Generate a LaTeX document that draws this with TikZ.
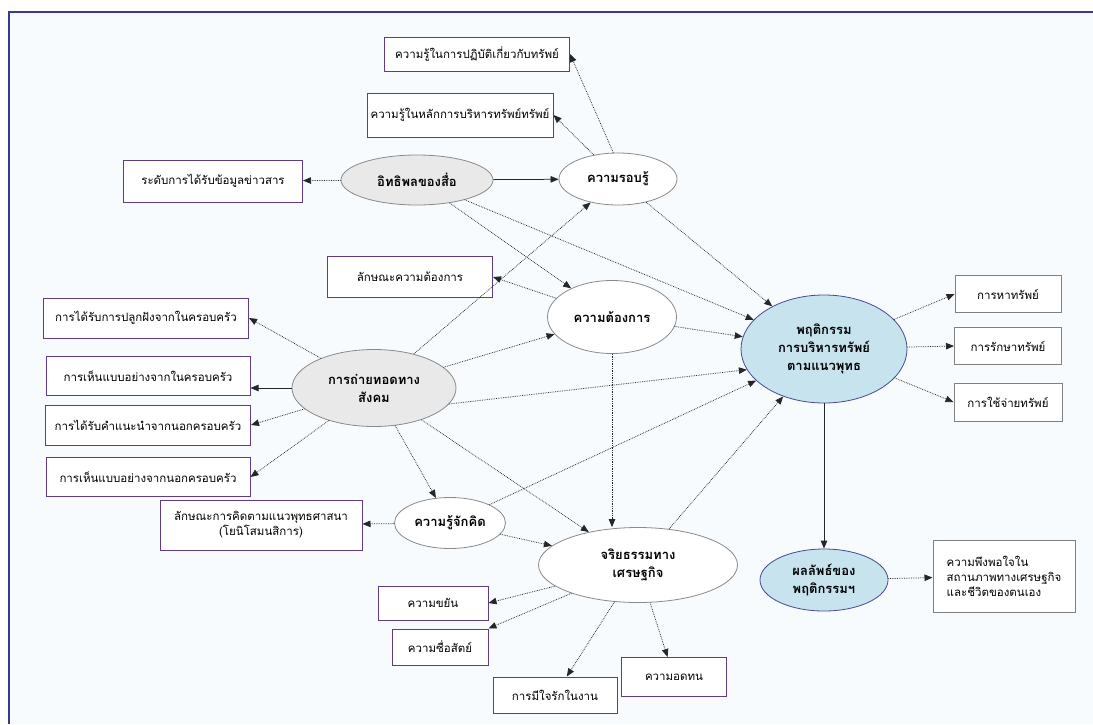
\documentclass[tikz,border=0pt]{standalone}
\usepackage{fontspec}
\newfontfamily\thaifont[Script=Thai]{Loma}
\usetikzlibrary{shapes.geometric,arrows.meta}
\definecolor{frameblue}{HTML}{38389A}
\definecolor{paper}{HTML}{F7FBFE}
\definecolor{boxpurple}{HTML}{5E3C8A}
\definecolor{ovalgray}{HTML}{E9E9E9}
\definecolor{ovalblue}{HTML}{C6E3EE}
\definecolor{ovalline}{HTML}{8A8A8A}
\definecolor{blueline}{HTML}{4A4A90}

\begin{document}
\begin{tikzpicture}
[every node/.style={inner sep=0pt, align=center, font=\thaifont\fontsize{11.5}{15}\selectfont},
 box/.style={rectangle, fill=white, line width=1pt, draw=boxpurple},
 gbox/.style={rectangle, fill=white, line width=1pt, draw=gray},
 oval/.style={ellipse, fill=white, line width=0.8pt, draw=ovalline, font=\thaifont\bfseries\fontsize{13}{18}\selectfont},
 goval/.style={oval, fill=ovalgray},
 boval/.style={oval, fill=ovalblue, draw=blueline},
 link/.style={line width=0.75pt, densely dotted, color=black!85, -{Triangle[length=8pt, width=6.5pt]}},
 solidlink/.style={link, solid}]
\useasboundingbox (0pt, 0pt) rectangle (1093pt, -724pt);
\fill [paper] (9pt, -12pt) rectangle (1093pt, -724pt);
\draw [frameblue, line width=1.5pt] (9pt, -724pt) -- (9pt, -12pt) -- (1093pt, -12pt);
\node (1) [box, minimum width=185pt, minimum height=34pt] at (477pt, -54pt) {ความรู้ในการปฏิบัติเกี่ยวกับทรัพย์};
\node (2) [box, minimum width=186pt, minimum height=44pt] at (460pt, -115pt) {ความรู้ในหลักการบริหารทรัพย์ทรัพย์};
\node (3) [box, minimum width=179pt, minimum height=42pt] at (213pt, -181pt) {ระดับการได้รับข้อมูลข่าวสาร};
\node (4) [goval, minimum width=152pt, minimum height=50pt] at (417pt, -180pt) {อิทธิพลของสื่อ};
\node (5) [oval, minimum width=118pt, minimum height=52pt] at (618pt, -179pt) {ความรอบรู้};
\node (6) [box, minimum width=165pt, minimum height=41pt] at (410pt, -277pt) {ลักษณะความต้องการ};
\node (7) [oval, minimum width=129pt, minimum height=73pt] at (612pt, -317pt) {ความต้องการ};
\node (8) [goval, minimum width=164pt, minimum height=77pt] at (374pt, -388pt) {การถ่ายทอดทาง\\สังคม};
\node (9) [box, minimum width=205pt, minimum height=40pt] at (146pt, -318pt) {การได้รับการปลูกฝังจากในครอบครัว};
\node (10) [box, minimum width=204pt, minimum height=39pt] at (148pt, -376pt) {การเห็นแบบอย่างจากในครอบครัว};
\node (11) [box, minimum width=205pt, minimum height=40pt] at (148pt, -425pt) {การได้รับคำแนะนำจากนอกครอบครัว};
\node (12) [box, minimum width=204pt, minimum height=39pt] at (148pt, -477pt) {การเห็นแบบอย่างจากนอกครอบครัว};
\node (13) [box, minimum width=202pt, minimum height=50pt] at (261pt, -525pt) {ลักษณะการคิดตามแนวพุทธศาสนา\\(โยนิโสมนสิการ)};
\node (14) [oval, minimum width=111pt, minimum height=51pt] at (450pt, -523pt) {ความรู้จักคิด};
\node (15) [oval, minimum width=199pt, minimum height=75pt] at (638pt, -565pt) {จริยธรรมทาง\\เศรษฐกิจ};
\node (16) [box, minimum width=110pt, minimum height=34pt] at (433pt, -603pt) {ความขยัน};
\node (17) [box, minimum width=96pt, minimum height=36pt] at (440pt, -647pt) {ความซื่อสัตย์};
\node (18) [box, minimum width=124pt, minimum height=36pt] at (555pt, -695pt) {การมีใจรักในงาน};
\node (19) [box, minimum width=105pt, minimum height=39pt] at (674pt, -677pt) {ความอดทน};
\node (20) [boval, minimum width=166pt, minimum height=108pt] at (824pt, -349pt) {พฤติกรรม\\การบริหารทรัพย์\\ตามแนวพุทธ};
\node (21) [gbox, minimum width=106pt, minimum height=37pt] at (1008pt, -294pt) {การหาทรัพย์};
\node (22) [gbox, minimum width=107pt, minimum height=37pt] at (1008pt, -346pt) {การรักษาทรัพย์};
\node (23) [gbox, minimum width=108pt, minimum height=38pt] at (1008pt, -402pt) {การใช้จ่ายทรัพย์};
\node (24) [boval, minimum width=128pt, minimum height=62pt] at (824pt, -580pt) {ผลลัพธ์ของ\\พฤติกรรมฯ};
\node (25) [gbox, minimum width=142pt, minimum height=72pt, align=left] at (1004pt, -576pt) {ความพึงพอใจใน\\สถานภาพทางเศรษฐกิจ\\และชีวิตของตนเอง};
\draw [link] (4) to (3);
\draw [solidlink] (4) to (5);
\draw [link] (4) to (7);
\draw [link] (4) to (20);
\draw [link] (5.100) to (1.east);
\draw [link] (5) to (2.east);
\draw [link] (5) to (20);
\draw [link] (7) to (6.east);
\draw [link] (7) to (20);
\draw [link] (7) to (7 |- 15.north);
\draw [link] (8) to (9.east);
\draw [solidlink] (8.west) to (8.west -| 10.east);
\draw [link] (8) to (11.east);
\draw [link] (8) to (12.east);
\draw [link] (8) to (5);
\draw [link] (8) to (7);
\draw [link] (8.-12) to (20.195);
\draw [link] (8) to (14);
\draw [link] (8) to (15);
\draw [link] (14) to (13);
\draw [link] (14) to (15);
\draw [link] (14) to (20);
\draw [link] (15) to (20);
\draw [link] (15) to (16.east);
\draw [link] (15) to (17.north east);
\draw [link] (15) to (18);
\draw [link] (15) to (19);
\draw [solidlink, line width=1pt] (20) to (24);
\draw [link] (20) to (21.west);
\draw [link] (20) to (22.west);
\draw [link] (20) to (23.west);
\draw [link] (24) to (25);
\end{tikzpicture}
\end{document}
